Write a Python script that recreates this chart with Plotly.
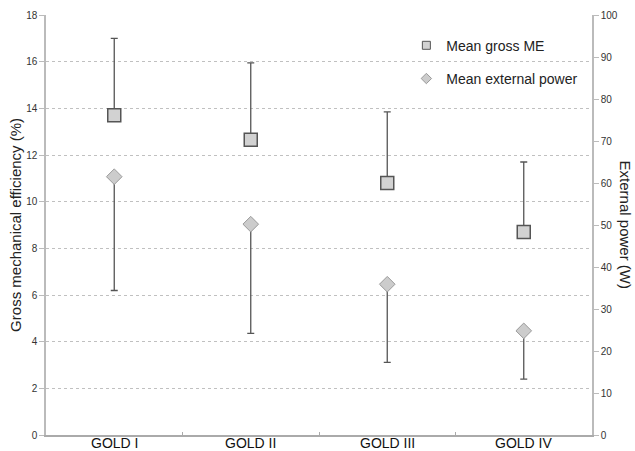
import plotly.graph_objects as go

categories = ["GOLD I", "GOLD II", "GOLD III", "GOLD IV"]
me_mean = [13.7, 12.65, 10.8, 8.7]
me_sd = [3.3, 3.3, 3.05, 3.0]
power_mean = [61.5, 50.2, 35.9, 24.8]
power_sd = [27.1, 26.0, 18.6, 11.5]

FONT = "Liberation Sans, Arial, sans-serif"

fig = go.Figure()

fig.add_trace(go.Scatter(
    x=categories, y=me_mean, mode="markers", name="Mean gross ME", showlegend=False,
    marker=dict(symbol="square", size=13, color="#d2d2d2", line=dict(color="#555555", width=1.5)),
    error_y=dict(type="data", symmetric=False, array=me_sd, arrayminus=[0] * 4,
                 color="#555555", thickness=1.3, width=3.5),
    yaxis="y",
))
fig.add_trace(go.Scatter(
    x=categories, y=power_mean, mode="markers", name="Mean external power", showlegend=False,
    marker=dict(symbol="diamond", size=12, color="#cccccc", line=dict(color="#9a9a9a", width=1)),
    error_y=dict(type="data", symmetric=False, array=[0] * 4, arrayminus=power_sd,
                 color="#555555", thickness=1.3, width=3.5),
    yaxis="y2",
))
# legend entries
fig.add_trace(go.Scatter(
    x=[None], y=[None], mode="markers", name="Mean gross ME", legendgroup="a",
    marker=dict(symbol="square", size=8, color="#d2d2d2", line=dict(color="#555555", width=1)),
))
fig.add_trace(go.Scatter(
    x=[None], y=[None], mode="markers", name="Mean external power", legendgroup="b",
    marker=dict(symbol="diamond", size=8, color="#cccccc", line=dict(color="#9a9a9a", width=1)),
))

annotations = [
    dict(text="Gross mechanical efficiency (%)", xref="paper", yref="paper",
         x=-0.057, y=0.5, textangle=-90, showarrow=False,
         font=dict(size=15, color="#222222"), xanchor="center", yanchor="middle"),
    dict(text="External power (W)", xref="paper", yref="paper",
         x=1.063, y=0.5, textangle=90, showarrow=False,
         font=dict(size=15, color="#222222"), xanchor="center", yanchor="middle"),
]
for c in categories:
    annotations.append(dict(text=c, x=c, xref="x", y=0, yref="paper", yanchor="top",
                            yshift=1, borderpad=0, showarrow=False,
                            font=dict(size=14, color="#111111")))

fig.update_layout(
    width=635, height=451,
    margin=dict(l=46, r=43, t=15, b=16),
    paper_bgcolor="white", plot_bgcolor="white",
    font=dict(family=FONT, color="#222222"),
    showlegend=True,
    legend=dict(x=0.66, y=0.965, xanchor="left", yanchor="top",
                font=dict(size=14, color="#222222"), bgcolor="rgba(0,0,0,0)",
                tracegroupgap=12, itemwidth=30),
    xaxis=dict(
        type="category", range=[-0.5, 3.5], showgrid=False,
        showline=True, linecolor="#aaaaaa", linewidth=1.5,
        ticks="inside", tickson="boundaries", ticklen=3, tickcolor="#aaaaaa",
        showticklabels=False, automargin=False,
    ),
    yaxis=dict(
        range=[0, 18], dtick=2, showgrid=True, gridcolor="#c0c0c0", griddash="dot", gridwidth=1,
        showline=True, linecolor="#bbbbbb", linewidth=1.5,
        ticks="outside", ticklen=5, tickcolor="#bbbbbb",
        tickfont=dict(size=10, color="#333333"), zeroline=False, automargin=False,
    ),
    yaxis2=dict(
        range=[0, 100], dtick=10, overlaying="y", side="right", showgrid=False,
        showline=True, linecolor="#bbbbbb", linewidth=1.5,
        ticks="outside", ticklen=5, tickcolor="#bbbbbb",
        tickfont=dict(size=10, color="#333333"), zeroline=False, automargin=False,
    ),
    annotations=annotations,
)

fig.write_html(
    "out.html",
    config={"displayModeBar": False},
    post_script="document.body.style.margin='0';document.body.style.overflow='hidden';",
)
